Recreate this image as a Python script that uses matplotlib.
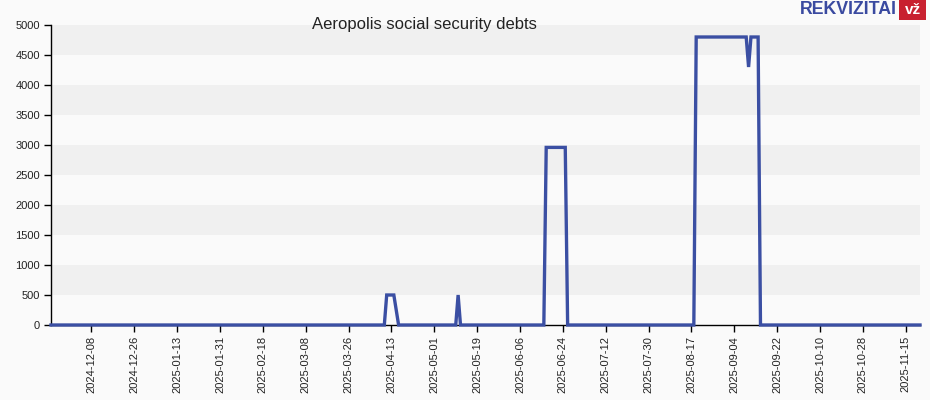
import matplotlib
matplotlib.use("Agg")
import matplotlib.pyplot as plt
import pandas as pd
from matplotlib.patches import Rectangle

title = "Aeropolis social security debts"
dates = ['2024-11-21', '2025-04-10', '2025-04-11', '2025-04-14', '2025-04-16',
         '2025-05-10', '2025-05-11', '2025-05-12', '2025-06-16', '2025-06-17',
         '2025-06-25', '2025-06-26', '2025-08-18', '2025-08-19', '2025-09-09',
         '2025-09-10', '2025-09-11', '2025-09-14', '2025-09-15', '2025-11-21']
values = [0, 0, 500, 500, 0,
          0, 500, 0, 0, 2960,
          2960, 0, 0, 4800, 4800,
          4300, 4800, 4800, 0, 0]
xtick_labels = ['2024-12-08', '2024-12-26', '2025-01-13', '2025-01-31', '2025-02-18',
                '2025-03-08', '2025-03-26', '2025-04-13', '2025-05-01', '2025-05-19',
                '2025-06-06', '2025-06-24', '2025-07-12', '2025-07-30', '2025-08-17',
                '2025-09-04', '2025-09-22', '2025-10-10', '2025-10-28', '2025-11-15']
yticks = list(range(0, 5001, 500))

plt.rcParams['font.family'] = ['Liberation Sans', 'DejaVu Sans']

W, H = 930, 400
fig = plt.figure(figsize=(W / 100, H / 100), dpi=100, facecolor='#fafafa')
ax = fig.add_axes([51 / W, 75 / H, 869 / W, 300 / H])
ax.set_facecolor('#fafafa')

x = pd.to_datetime(dates)
ax.set_xlim(x[0], x[-1])
ax.set_ylim(0, 5000)

# alternating bands
for i, y0 in enumerate(yticks[:-1]):
    if i % 2 == 1:
        ax.axhspan(y0, y0 + 500, color='#f0f0f0', lw=0, zorder=0)

ax.plot(x, values, color='#3b4fa3', lw=2.4, clip_on=False, zorder=3,
        solid_joinstyle='miter')

ax.set_yticks(yticks)
ax.set_yticklabels([str(v) for v in yticks], fontsize=8, color='#222222')
xt = pd.to_datetime(xtick_labels)
ax.set_xticks(xt)
ax.set_xticklabels(xtick_labels, rotation=90, fontsize=8, color='#222222')
ax.tick_params(axis='both', direction='out', length=5, width=1, color='#000000', pad=3)

for s in ['top', 'right']:
    ax.spines[s].set_visible(False)
for s in ['left', 'bottom']:
    ax.spines[s].set_color('#000000')
    ax.spines[s].set_linewidth(1)

fig.text(424 / W, 1 - 24 / H, title, ha='center', va='center', fontsize=12, color='#222222')

# logo
fig.text(897 / W, 1 - 10 / H, 'REKVIZITAI', ha='right', va='center', fontsize=12.8,
         fontweight='bold', color='#3a4aa0')
fig.patches.append(Rectangle((899 / W, 1 - 20 / H), 27 / W, 20 / H, transform=fig.transFigure,
                             facecolor='#c8202f', edgecolor='none'))
fig.text(912.5 / W, 1 - 10 / H, 'vž', ha='center', va='center', fontsize=11,
         fontweight='bold', color='white')

fig.savefig('out.png', dpi=100, facecolor=fig.get_facecolor())
